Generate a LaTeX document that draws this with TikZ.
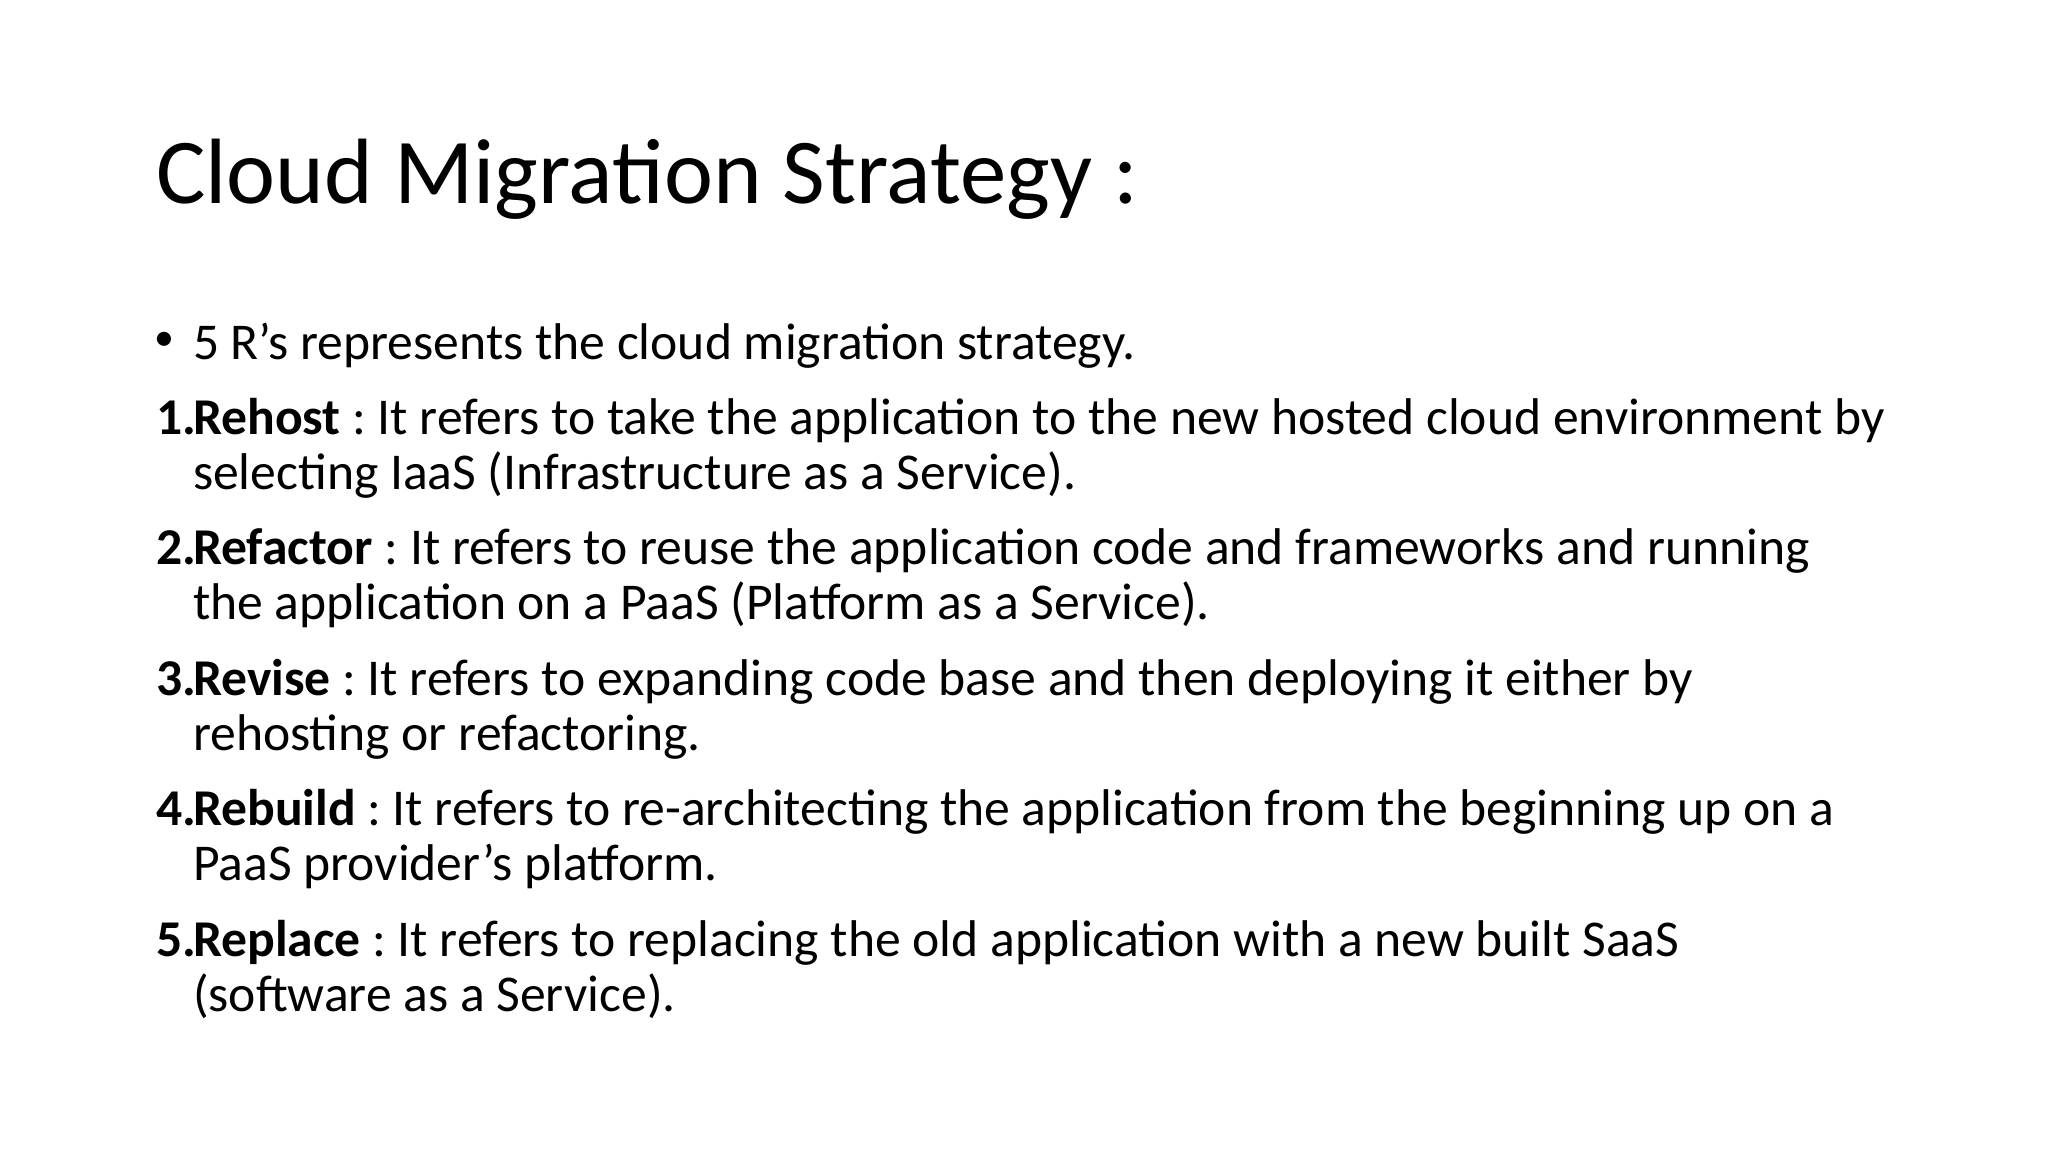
\documentclass[tikz,border=0pt]{standalone}
\usepackage{fontspec}
\setmainfont{Carlito}
\begin{document}
\frenchspacing
\begin{tikzpicture}[x=0.46875pt,y=-0.46875pt,
  every node/.style={inner sep=0pt,outer sep=0pt,anchor=base west},
  titletext/.style={font=\fontsize{43.5}{50}\selectfont},
  bodytext/.style={font=\fontsize{24.2}{28}\selectfont\frenchspacing},
  bullettext/.style={font=\fontsize{18.7}{22}\selectfont,anchor=center}]
\fill[white] (0,0) rectangle (2048,1152);
\useasboundingbox (0,0) rectangle (2048,1152);
\node[titletext] (title) at (156,204) {Cloud Migration Strategy :};
\node[bullettext] (bul) at (164,341) {•};
\node[bodytext] (intro) at (193,359) {5 R’s represents the cloud migration strategy.};
\node[bodytext] (n1) at (156,434) {\textbf{1.}};
\node[bodytext] (r1a) at (193,434) {\textbf{Rehost} : It refers to take the application to the new hosted cloud environment by};
\node[bodytext] (r1b) at (193,489) {selecting IaaS (Infrastructure as a Service).};
\node[bodytext] (n2) at (156,564.5) {\textbf{2.}};
\node[bodytext] (r2a) at (193,564.5) {\textbf{Refactor} : It refers to reuse the application code and frameworks and running};
\node[bodytext] (r2b) at (193,619.5) {the application on a PaaS (Platform as a Service).};
\node[bodytext] (n3) at (156,695) {\textbf{3.}};
\node[bodytext] (r3a) at (193,695) {\textbf{Revise} : It refers to expanding code base and then deploying it either by};
\node[bodytext] (r3b) at (193,750) {rehosting or refactoring.};
\node[bodytext] (n4) at (156,825.5) {\textbf{4.}};
\node[bodytext] (r4a) at (193,825.5) {\textbf{Rebuild} : It refers to re-architecting the application from the beginning up on a};
\node[bodytext] (r4b) at (193,880.5) {PaaS provider’s platform.};
\node[bodytext] (n5) at (156,956) {\textbf{5.}};
\node[bodytext] (r5a) at (193,956) {\textbf{Replace} : It refers to replacing the old application with a new built SaaS};
\node[bodytext] (r5b) at (193,1011) {(software as a Service).};
\end{tikzpicture}
\end{document}
